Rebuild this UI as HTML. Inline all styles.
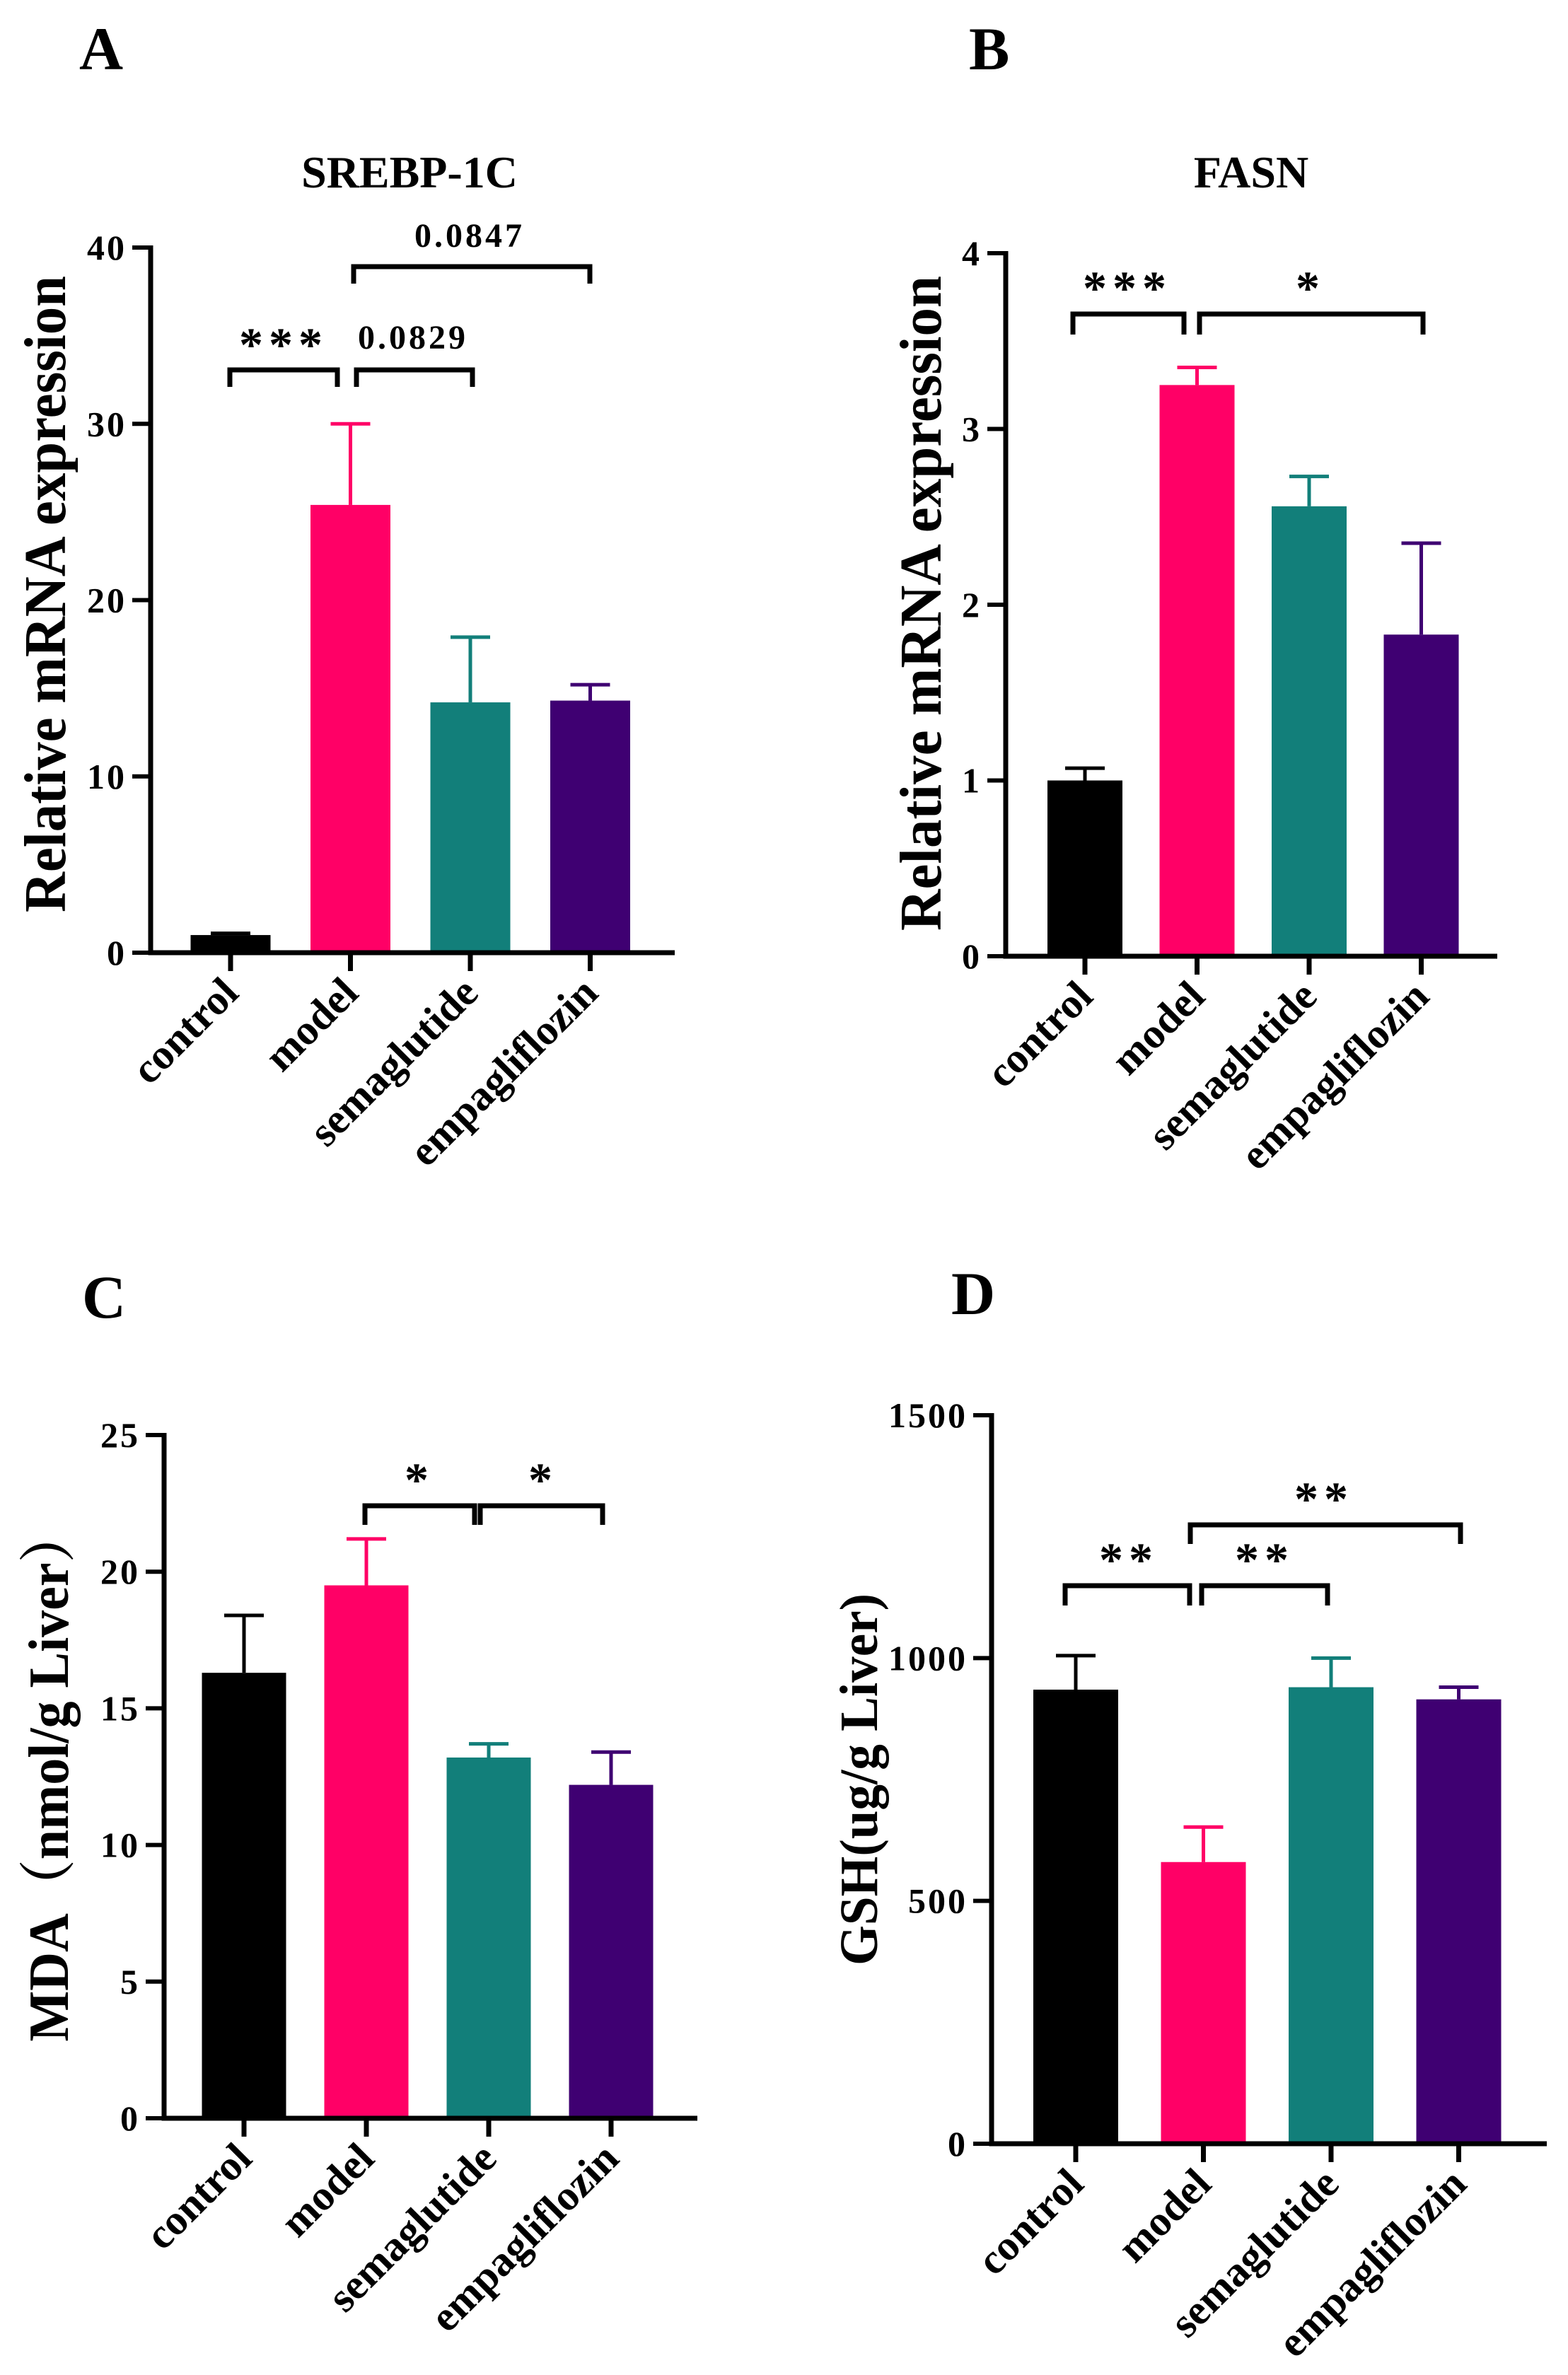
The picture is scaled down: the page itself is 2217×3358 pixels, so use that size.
<!DOCTYPE html>
<html><head><meta charset="utf-8"><style>
html,body{margin:0;padding:0;background:#fff;}
svg{display:block;}
text{font-family:"Liberation Serif","Times New Roman","Noto Serif CJK SC",serif;font-weight:bold;fill:#000;}
</style></head><body>
<svg id="fig" width="2217" height="3358" viewBox="0 0 2217 3358" xmlns="http://www.w3.org/2000/svg"></svg>
<script>
const categories = ["control","model","semaglutide","empagliflozin"];
const colors = ["#000000","#ff0066","#127f7a","#3f0072"];
// Panel A SREBP-1C
const aMeans = [1.0, 25.4, 14.2, 14.3];
const aErrs = [1.1, 30.0, 17.9, 15.2];
const aTicks = [0,10,20,30,40];
// Panel B FASN
const bMeans = [1.0, 3.25, 2.56, 1.83];
const bErrs = [1.07, 3.35, 2.73, 2.35];
const bTicks = [0,1,2,3,4];
// Panel C MDA
const cMeans = [16.3, 19.5, 13.2, 12.2];
const cErrs = [18.4, 21.2, 13.7, 13.4];
const cTicks = [0,5,10,15,20,25];
// Panel D GSH
const dMeans = [935, 580, 940, 915];
const dErrs = [1005, 652, 1000, 940];
const dTicks = [0,500,1000,1500];

const NS="http://www.w3.org/2000/svg";
const svg=document.getElementById('fig');
function mk(tag,attrs,parent,txt){const e=document.createElementNS(NS,tag);for(const k in attrs)e.setAttribute(k,attrs[k]);if(txt!==undefined)e.textContent=txt;(parent||svg).appendChild(e);return e;}

function panel(o){
  const g=mk('g',{});
  
  
  const yS=v=>o.y0+(o.yTop-o.y0)*(v/o.max);
  const xS=i=>o.x0c+i*o.step;
  const L=mk('text',{x:o.letter[0],y:o.letter[1],'font-size':86},g,o.id.toUpperCase());
  
  
  if(o.title){const t=mk('text',{x:o.title[1],y:265,'font-size':64,'text-anchor':'middle'},g,o.title[0]);
    
    }
  o.means.forEach((m,i)=>{
    const cx=xS(i),top=yS(m);
    const r=mk('rect',{x:cx-o.bw/2,y:top,width:o.bw,height:o.y0-top,fill:colors[i]},g);
    
    
    const ey=yS(o.errs[i]);
    const e=mk('path',{d:`M${cx},${top} V${ey} M${cx-28},${ey} H${cx+28}`,stroke:colors[i],'stroke-width':5,fill:'none'},g);
    
    
  });
  const ax=mk('path',{d:`M${o.ax},${o.yTop-3} V${o.y0} H${o.xEnd}`,stroke:'#000','stroke-width':7,fill:'none'},g);
  
  
  o.ticks.forEach(t=>{
    const y=yS(t);
    mk('line',{x1:o.ax-26,x2:o.ax,y1:y,y2:y,stroke:'#000','stroke-width':6},g);
    const tl=mk('text',{x:o.ax-34,y:y+17,'font-size':50,'text-anchor':'end','letter-spacing':3},g,String(t));
    
    
  });
  categories.forEach((c,i)=>{
    const x=xS(i);
    mk('line',{x1:x,x2:x,y1:o.y0,y2:o.y0+26,stroke:'#000','stroke-width':7},g);
    const tx=x+14,ty=o.y0+60;
    const xl=mk('text',{x:tx,y:ty,'font-size':60,'text-anchor':'end',transform:`rotate(-45 ${tx} ${ty})`},g,c);
    
    
  });
  const yt=mk('text',{x:0,y:0,'font-size':o.ylFs,'text-anchor':'middle',transform:`translate(${o.yl[0]},${o.yl[1]}) rotate(-90)`,textLength:o.yl[2],lengthAdjust:'spacingAndGlyphs'},g,o.ylabel);
  
  
  o.brackets.forEach(b=>{
    const p=mk('path',{d:`M${b[0]},${b[3]} V${b[2]} H${b[1]} V${b[3]}`,stroke:'#000','stroke-width':7,fill:'none'},g);
    
    
    const star=b[4].indexOf('*')>=0;
    const t=mk('text',{x:b[5],y:b[6],'font-size':star?68:48,'text-anchor':'middle','letter-spacing':star?8:4},g,b[4]);
    
    
  });
}

panel({id:'a',letter:[112,98],title:['SREBP-1C',579],means:aMeans,errs:aErrs,ticks:aTicks,max:40,
  ax:213,y0:1347,yTop:350,xEnd:954,x0c:326,step:169.5,bw:113,
  ylabel:'Relative mRNA expression',ylFs:84,yl:[92,840,900],
  brackets:[[325,477,523,547,'***',401,510],[504,668,523,547,'0.0829',584,493],[500,834,377,401,'0.0847',664,349]]});
panel({id:'b',letter:[1370,98],title:['FASN',1769],means:bMeans,errs:bErrs,ticks:bTicks,max:4,
  ax:1422,y0:1352,yTop:358,xEnd:2117,x0c:1534,step:158.5,bw:106,
  ylabel:'Relative mRNA expression',ylFs:84,yl:[1330,853,926],
  brackets:[[1517,1674,444,473,'***',1594,430],[1696,2012,444,473,'*',1853,430]]});
panel({id:'c',letter:[116,1863],means:cMeans,errs:cErrs,ticks:cTicks,max:25,
  ax:232,y0:2995,yTop:2029,xEnd:986,x0c:345,step:173,bw:119,
  ylabel:'MDA（nmol/g Liver）',ylFs:80,yl:[96,2510,753],
  brackets:[[516,671,2129,2156,'*',593,2115],[679,852,2129,2156,'*',768,2115]]});
panel({id:'d',letter:[1345,1858],means:dMeans,errs:dErrs,ticks:dTicks,max:1500,
  ax:1402,y0:3031,yTop:2001,xEnd:2187,x0c:1521,step:180.5,bw:120,
  ylabel:'GSH(ug/g Liver)',ylFs:76,yl:[1240,2516,526],
  brackets:[[1506,1682,2242,2270,'**',1596,2228],[1699,1877,2242,2270,'**',1788,2228],[1683,2065,2156,2183,'**',1872,2142]]});
</script>
</body></html>
